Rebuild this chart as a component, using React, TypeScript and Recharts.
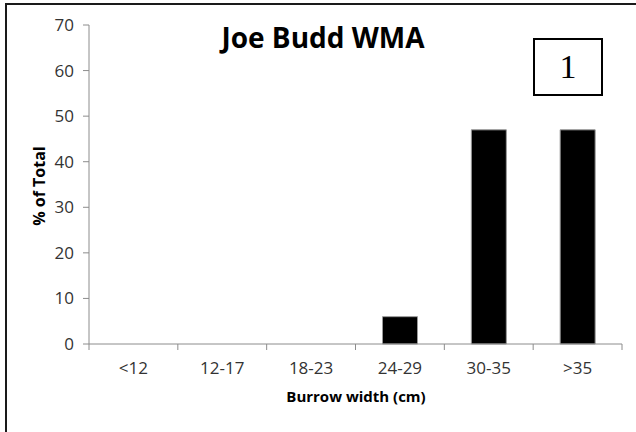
import React from "react";
import { BarChart, Bar, XAxis, YAxis } from "recharts";

const categories = ["<12", "12-17", "18-23", "24-29", "30-35", ">35"];
const percentOfTotal = [0, 0, 0, 6, 47, 47];
const yTicks = [0, 10, 20, 30, 40, 50, 60, 70];

const data = categories.map((c, i) => ({ cat: c, pct: percentOfTotal[i] }));

const font = "'Open Sans', sans-serif";
const axisGray = "#8c8c8c";
const TICK_SIZE = 6;
const TICK_MARGIN = 12;

// category label plus Excel-style tick marks on the category boundaries
function CatTick(props: any) {
  const { x, y, payload, index, visibleTicksCount } = props;
  const half = payload.offset || 0;
  const axisY = y - TICK_SIZE - TICK_MARGIN;
  const isLast = index === visibleTicksCount - 1;
  return (
    <g>
      <line
        x1={x - half}
        x2={x - half}
        y1={axisY}
        y2={axisY + TICK_SIZE}
        stroke={axisGray}
      />
      {isLast && (
        <line
          x1={x + half}
          x2={x + half}
          y1={axisY}
          y2={axisY + TICK_SIZE}
          stroke={axisGray}
        />
      )}
      <text
        x={x}
        y={y}
        dy="0.71em"
        textAnchor="middle"
        fontSize={17}
        fill="#333"
        fontFamily={font}
      >
        {payload.value}
      </text>
    </g>
  );
}

export default function App() {
  return (
    <div
      style={{
        position: "absolute",
        left: 0,
        top: 0,
        width: 636,
        height: 432,
        overflow: "hidden",
        background: "#fff",
        fontFamily: font,
      }}
    >
      <style>{"html, body { overflow: hidden; }"}</style>
      {/* outer frame, only top and left edges are visible */}
      <div
        style={{
          position: "absolute",
          left: 5,
          top: 3,
          width: 2,
          height: 429,
          background: "#1a1a1a",
        }}
      />
      <div
        style={{
          position: "absolute",
          left: 5,
          top: 3,
          width: 631,
          height: 2,
          background: "#1a1a1a",
        }}
      />
      <BarChart
        width={636}
        height={432}
        data={data}
        margin={{ top: 25, right: 14, bottom: 58, left: 0 }}
        style={{ position: "absolute", left: 0, top: 0 }}
      >
        <XAxis
          dataKey="cat"
          stroke={axisGray}
          tickLine={false}
          tickSize={TICK_SIZE}
          tickMargin={TICK_MARGIN}
          height={30}
          interval={0}
          tick={<CatTick />}
        />
        <YAxis
          domain={[0, 70]}
          ticks={yTicks}
          width={89}
          tickSize={6}
          tickMargin={9}
          stroke={axisGray}
          tick={{ fontSize: 17, fill: "#333", fontFamily: font }}
        />
        <Bar
          dataKey="pct"
          fill="#000"
          stroke="#999"
          strokeWidth={1}
          barSize={35}
          isAnimationActive={false}
        />
      </BarChart>
      <div
        style={{
          position: "absolute",
          left: 173,
          top: 20,
          width: 300,
          textAlign: "center",
          fontSize: 28,
          fontWeight: 700,
          lineHeight: "34px",
          color: "#000",
        }}
      >
        Joe Budd WMA
      </div>
      <div
        style={{
          position: "absolute",
          left: 533,
          top: 38,
          width: 70,
          height: 58,
          boxSizing: "border-box",
          border: "2px solid #000",
          display: "flex",
          alignItems: "center",
          justifyContent: "center",
          fontFamily: "'Liberation Serif', serif",
          fontSize: 34,
          color: "#000",
        }}
      >
        1
      </div>
      <div
        style={{
          position: "absolute",
          left: 206,
          top: 386,
          width: 300,
          textAlign: "center",
          fontSize: 15,
          fontWeight: 700,
          lineHeight: "20px",
          color: "#000",
        }}
      >
        Burrow width (cm)
      </div>
      <div
        style={{
          position: "absolute",
          left: 39 - 60,
          top: 186 - 10,
          width: 120,
          height: 20,
          lineHeight: "20px",
          textAlign: "center",
          transform: "rotate(-90deg)",
          fontSize: 16,
          fontWeight: 700,
          color: "#000",
        }}
      >
        % of Total
      </div>
    </div>
  );
}
